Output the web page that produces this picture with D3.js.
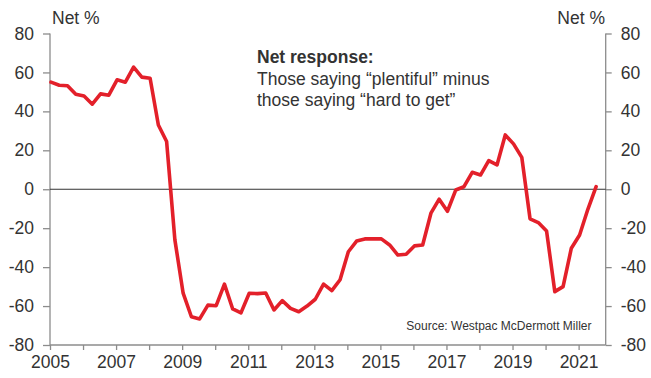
<!DOCTYPE html>
<html>
<head>
<meta charset="utf-8">
<script src="https://cdn.jsdelivr.net/npm/d3@7"></script>
<style>
  html, body { margin: 0; padding: 0; background: #fff; }
  svg { display: block; font-family: "Liberation Sans", Arial, sans-serif; }
</style>
</head>
<body>
<svg id="chart" width="651" height="378"></svg>
<script>
// Quarterly survey periods
const quarters = [
  "2005Q1","2005Q2","2005Q3","2005Q4","2006Q1","2006Q2","2006Q3","2006Q4",
  "2007Q1","2007Q2","2007Q3","2007Q4","2008Q1","2008Q2","2008Q3","2008Q4",
  "2009Q1","2009Q2","2009Q3","2009Q4","2010Q1","2010Q2","2010Q3","2010Q4",
  "2011Q1","2011Q2","2011Q3","2011Q4","2012Q1","2012Q2","2012Q3","2012Q4",
  "2013Q1","2013Q2","2013Q3","2013Q4","2014Q1","2014Q2","2014Q3","2014Q4",
  "2015Q1","2015Q2","2015Q3","2015Q4","2016Q1","2016Q2","2016Q3","2016Q4",
  "2017Q1","2017Q2","2017Q3","2017Q4","2018Q1","2018Q2","2018Q3","2018Q4",
  "2019Q1","2019Q2","2019Q3","2019Q4","2020Q1","2020Q2","2020Q3","2020Q4",
  "2021Q1","2021Q2","2021Q3"
];
// Net % (plentiful minus hard to get)
const netResponse = [
  55.0, 53.4, 53.2, 48.8, 47.9, 43.7, 49.0, 48.3,
  56.2, 55.0, 62.7, 57.6, 57.0, 33.0, 24.5, -26.0,
  -53.4, -65.5, -66.6, -59.5, -59.8, -48.7, -61.5, -63.5,
  -53.4, -53.6, -53.3, -62.0, -57.2, -61.2, -62.9, -60.0,
  -56.5, -48.7, -52.1, -46.5, -32.1, -26.6, -25.5, -25.4,
  -25.5, -28.6, -33.8, -33.4, -29.1, -28.6, -12.3, -5.1,
  -11.3, -0.4, 1.3, 8.7, 7.3, 14.7, 12.5, 27.9,
  23.3, 16.4, -15.2, -17.1, -21.4, -52.6, -50.0, -30.3,
  -23.5, -10.3, 1.3
];
const yTicks = [-80, -60, -40, -20, 0, 20, 40, 60, 80];
const xTickYears = [2005, 2006, 2007, 2008, 2009, 2010, 2011, 2012, 2013, 2014, 2015, 2016, 2017, 2018, 2019, 2020, 2021];
const xLabelYears = [2005, 2007, 2009, 2011, 2013, 2015, 2017, 2019, 2021];
const yAxisTitle = "Net %";
const noteTitle = "Net response:";
const noteLines = ["Those saying \u201cplentiful\u201d minus", "those saying \u201chard to get\u201d"];
const sourceText = "Source: Westpac McDermott Miller";

const svg = d3.select("#chart");
const plotLeft = 50, plotRight = 605.7, plotTop = 33.5, plotBottom = 345;
const textColor = "#333333";
const axisColor = "#8c8c8c";
const fontSize = 17.5;

const toYear = q => +q.slice(0, 4) + (+q.slice(5) - 1) / 4 + 0.03;
const yFmt = d => String(d);  // plain hyphen-minus as in the original

const x = d3.scaleLinear().domain([2005, 2021.82]).range([plotLeft, plotRight]);
const y = d3.scaleLinear().domain([-80, 80]).range([plotBottom, plotTop]);

// Left axis
const gL = svg.append("g").attr("transform", `translate(${plotLeft},0)`)
  .call(d3.axisLeft(y).tickValues(yTicks).tickSize(7).tickPadding(9).tickFormat(yFmt));
// Right axis
const gR = svg.append("g").attr("transform", `translate(${plotRight},0)`)
  .call(d3.axisRight(y).tickValues(yTicks).tickSize(6).tickPadding(9).tickFormat(yFmt));
// Bottom axis
const gB = svg.append("g").attr("transform", `translate(0,${plotBottom})`)
  .call(d3.axisBottom(x).tickValues(xTickYears).tickSize(5).tickPadding(6)
    .tickFormat(d => xLabelYears.includes(d) ? String(d) : ""));

[gL, gR, gB].forEach(g => {
  g.select(".domain").attr("stroke", axisColor).attr("stroke-width", 1.3);
  g.selectAll(".tick line").attr("stroke", axisColor).attr("stroke-width", 1.3);
  g.selectAll(".tick text").attr("fill", textColor).attr("font-size", fontSize)
    .attr("font-family", "Liberation Sans, Arial, sans-serif");
});
gL.select(".domain").attr("d", `M0,${plotTop}V${plotBottom}`);
gR.select(".domain").attr("d", `M0,${plotTop}V${plotBottom}`);
gB.select(".domain").attr("d", `M${plotLeft},0H${plotRight}`);

// Zero line
svg.append("line")
  .attr("x1", plotLeft).attr("x2", plotRight)
  .attr("y1", y(0)).attr("y2", y(0))
  .attr("stroke", "#333").attr("stroke-width", 1);

// Series line
const line = d3.line()
  .x((d, i) => x(toYear(quarters[i])))
  .y(d => y(d));
svg.append("path")
  .datum(netResponse)
  .attr("d", line)
  .attr("fill", "none")
  .attr("stroke", "#e3202a")
  .attr("stroke-width", 3.6)
  .attr("stroke-linejoin", "round")
  .attr("stroke-linecap", "round");

// Axis titles
svg.append("text").attr("x", 52).attr("y", 24).attr("fill", textColor)
  .attr("font-size", fontSize).text(yAxisTitle);
svg.append("text").attr("x", 605).attr("y", 24).attr("fill", textColor)
  .attr("font-size", fontSize).attr("text-anchor", "end").text(yAxisTitle);

// Annotation
const note = svg.append("text").attr("x", 257).attr("y", 63).attr("fill", textColor).attr("font-size", fontSize);
note.append("tspan").attr("x", 257).attr("y", 63).attr("font-weight", "bold").text(noteTitle);
noteLines.forEach((t, i) => {
  note.append("tspan").attr("x", 257).attr("y", 84.5 + i * 21.5).text(t);
});

// Source
svg.append("text").attr("x", 591.5).attr("y", 330).attr("text-anchor", "end")
  .attr("fill", textColor).attr("font-size", 12).text(sourceText);
</script>
</body>
</html>
